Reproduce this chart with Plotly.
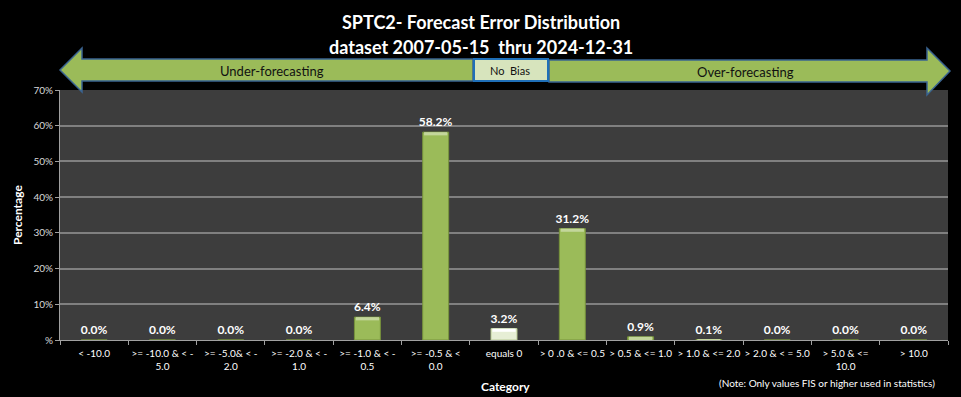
import plotly.graph_objects as go

categories = ["< -10.0", ">= -10.0 & < -<br>5.0", ">= -5.0& < -<br>2.0", ">= -2.0 & < -<br>1.0",
              ">= -1.0 & < -<br>0.5", ">= -0.5 & <<br>0.0", "equals 0", "> 0 .0 & <= 0.5",
              "> 0.5 & <= 1.0", "> 1.0 & <= 2.0", "> 2.0 & < = 5.0", "> 5.0 & <=<br>10.0", "> 10.0"]
values = [0.0, 0.0, 0.0, 0.0, 6.4, 58.2, 3.2, 31.2, 0.9, 0.1, 0.0, 0.0, 0.0]
bar_colors = ["#9BBB59"] * 6 + ["#E6EED5"] + ["#9BBB59"] * 6
line_colors = ["#77933C"] * 6 + ["#B9CB94"] + ["#77933C"] * 6
top_colors = ["#C3D69B"] * 6 + ["#FFFFFF"] + ["#C3D69B"] * 6
ytick_vals = [0, 10, 20, 30, 40, 50, 60, 70]
ytick_text = ["%", "10%", "20%", "30%", "40%", "50%", "60%", "70%"]

W, H = 961, 397
L, R, T, B = 60, 948, 90, 340
FONT = "Lato"


def px(x, y):
    return (x - L) / (R - L), (B - y) / (B - T)


def path(points):
    s = ""
    for i, (x, y) in enumerate(points):
        a, b = px(x, y)
        s += ("M" if i == 0 else " L") + f"{a:.5f},{b:.5f}"
    return s + " Z"


fig = go.Figure()
fig.add_trace(go.Bar(
    x=categories, y=values,
    marker=dict(color=bar_colors, line=dict(color=line_colors, width=1)),
    text=[f"<b>{v:.1f}%</b>" for v in values], textposition="outside", constraintext="none",
    textfont=dict(color="white", size=12, family=FONT),
    cliponaxis=False, width=0.38, hoverinfo="skip",
))
# bevel highlight on top of bars
cap = [min(v, 0.9) for v in values]
fig.add_trace(go.Bar(
    x=categories, y=cap, base=[v - c for v, c in zip(values, cap)],
    marker=dict(color=top_colors, line=dict(width=0)),
    width=0.34, hoverinfo="skip", showlegend=False,
))

shapes = []
left_arrow = [(60, 70), (82, 48), (82, 59), (473, 59), (473, 81), (82, 81), (82, 92)]
right_arrow = [(549, 60), (927, 60), (927, 48), (950, 71), (927, 95), (927, 82), (549, 82)]
for pts in (left_arrow, right_arrow):
    shapes.append(dict(type="path", xref="paper", yref="paper", path=path(pts),
                       fillcolor="#9BBB59", line=dict(color="#3A6491", width=1.5), layer="above"))
x0, y0 = px(474, 59)
x1, y1 = px(548, 81)
shapes.append(dict(type="rect", xref="paper", yref="paper", x0=x0, y0=y1, x1=x1, y1=y0,
                   fillcolor="#D7E4BD", line=dict(color="#1F6FB8", width=2), layer="above"))

annotations = []


def ann(text, x, y, size, color="white", bold=False, xanchor="center"):
    a, b = px(x, y)
    annotations.append(dict(text=f"<b>{text}</b>" if bold else text, x=a, y=b, xref="paper", yref="paper",
                            showarrow=False, xanchor=xanchor, yanchor="middle",
                            font=dict(size=size, color=color, family=FONT)))


ann("SPTC2- Forecast Error Distribution", 481, 22, 18, bold=True)
ann("dataset 2007-05-15  thru 2024-12-31", 481, 47, 18, bold=True)
ann("Under-forecasting", 272, 71, 13, color="#111111")
ann("Over-forecasting", 745, 72, 13, color="#111111")
ann("No  Bias", 510, 71, 11, color="#111111")
ann("Category", 505, 386, 12, bold=True)
ann("(Note: Only values FIS or higher used in statistics)", 937, 383, 10, xanchor="right")
ann("Percentage", 17, 215, 12, bold=True)
annotations[-1]["textangle"] = -90

fig.update_layout(
    width=W, height=H, barmode="overlay", showlegend=False,
    paper_bgcolor="black", plot_bgcolor="#3D3D3D",
    margin=dict(l=L, r=W - R, t=T, b=H - B, pad=0),
    shapes=shapes, annotations=annotations,
    font=dict(family=FONT, color="white"),
    xaxis=dict(type="category", tickson="boundaries", ticks="outside", ticklen=4, tickcolor="#A0A0A0",
               showline=True, linecolor="#A0A0A0", showgrid=False, ticklabelstandoff=4,
               tickfont=dict(size=10, color="white", family=FONT), tickangle=0, fixedrange=True),
    yaxis=dict(range=[0, 70], tickvals=ytick_vals, ticktext=ytick_text, ticks="outside", ticklen=4,
               tickcolor="#A0A0A0", showline=True, linecolor="#A0A0A0", gridcolor="#808080", gridwidth=1.5,
               tickfont=dict(size=10, color="#D9D9D9", family=FONT), zeroline=False, fixedrange=True),
)
fig.write_html("out.html", config={"displayModeBar": False},
               post_script="document.body.style.margin='0';document.body.style.background='black';")
